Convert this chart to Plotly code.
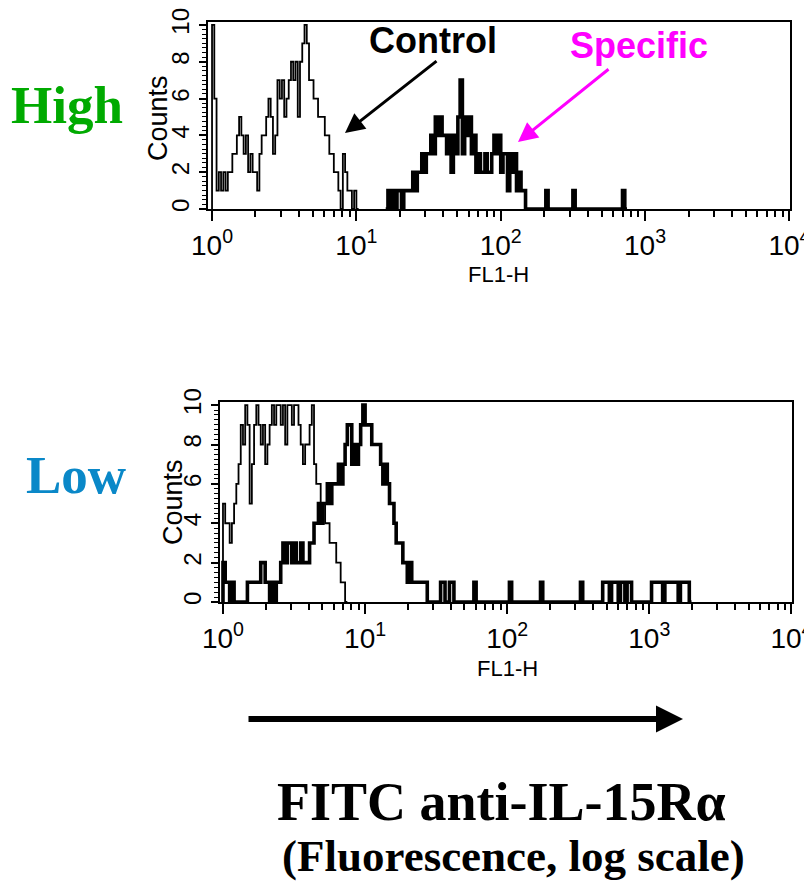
import plotly.graph_objects as go

# FL1-H channels: 64 channels per decade over four decades (1 .. 10^4)
CHANNELS_PER_DECADE = 64

DECADE_VALUES = [1, 10, 100, 1000, 10000]
DECADE_LABELS = ["10<sup>0</sup>", "10<sup>1</sup>", "10<sup>2</sup>",
                 "10<sup>3</sup>", "10<sup>4</sup>"]
COUNT_TICKS = [0, 2, 4, 6, 8, 10]

# High IL-15Ra expressers: cell counts per channel
HIGH_CONTROL_START = 0
HIGH_CONTROL = [10, 6, 1, 2, 1, 2, 1, 2, 2, 3, 3, 4, 5, 4, 3, 4, 2, 3, 2, 2,
                1, 3, 4, 4, 5, 6, 5, 3, 4, 7, 6, 7, 5, 6, 7, 8, 7, 8, 5, 8,
                9, 10, 9, 7, 7, 6, 6, 5, 5, 5, 4, 4, 3, 3, 2, 2, 1, 0, 3, 2,
                1, 1, 0, 1, 0]

HIGH_SPECIFIC_START = 77
HIGH_SPECIFIC = [0, 1, 0, 1, 0, 1, 1, 0, 1, 1, 1, 1, 2, 1, 2, 2, 3, 2, 3, 3,
                 4, 3, 5, 4, 5, 4, 4, 3, 4, 2, 4, 3, 5, 7, 3, 5, 4, 5, 3, 4,
                 2, 3, 2, 2, 3, 2, 2, 3, 4, 3, 4, 2, 3, 3, 1, 3, 2, 3, 1, 2,
                 1, 1, 0, 0, 0, 0, 0, 0, 0, 0, 0, 1, 0, 0, 0, 0, 0, 0, 0, 0,
                 0, 0, 0, 1, 0, 0, 0, 0, 0, 0, 0, 0, 0, 0, 0, 0, 0, 0, 0, 0,
                 0, 0, 0, 0, 0, 1, 0]

# Low IL-15Ra expressers: cell counts per channel
LOW_CONTROL_START = 0
LOW_CONTROL = [5, 4, 4, 3, 4, 5, 6, 7, 9, 8, 10, 9, 5, 7, 9, 10, 9, 8, 9, 7,
               8, 9, 10, 9, 10, 10, 9, 10, 8, 10, 10, 9, 10, 10, 9, 8, 7, 8, 8, 9,
               10, 7, 6, 6, 5, 5, 4, 4, 3, 3, 3, 2, 2, 1, 1, 0]

LOW_SPECIFIC_START = 0
LOW_SPECIFIC = [2, 1, 1, 0, 1, 0, 0, 0, 0, 0, 0, 1, 1, 1, 1, 1, 1, 2, 2, 1,
                1, 0, 1, 0, 1, 1, 2, 3, 2, 3, 3, 2, 3, 2, 2, 3, 2, 2, 2, 3,
                3, 4, 4, 5, 4, 5, 5, 6, 5, 6, 6, 6, 7, 6, 7, 8, 9, 9, 7, 8,
                7, 8, 9, 10, 9, 9, 9, 8, 8, 8, 8, 7, 6, 7, 6, 5, 5, 4, 3, 3,
                3, 2, 2, 1, 2, 1, 1, 1, 1, 1, 1, 1, 0, 0, 0, 0, 0, 0, 1, 1,
                0, 0, 1, 1, 0, 0, 0, 0, 0, 0, 0, 0, 0, 1, 0, 0, 0, 0, 0, 0,
                0, 0, 0, 0, 0, 0, 0, 0, 0, 1, 0, 0, 0, 0, 0, 0, 0, 0, 0, 0,
                0, 0, 0, 1, 0, 0, 0, 0, 0, 0, 0, 0, 0, 0, 0, 0, 0, 0, 0, 0,
                0, 1, 0, 0, 0, 0, 0, 0, 0, 0, 0, 1, 1, 1, 0, 1, 1, 1, 0, 1,
                1, 0, 1, 1, 0, 0, 0, 0, 0, 0, 0, 0, 0, 1, 1, 1, 1, 1, 0, 1,
                1, 1, 1, 1, 1, 0, 1, 1, 1, 1, 0]


def step_trace(start, counts, width, xaxis, yaxis):
    """Channel histogram drawn as a stepped outline."""
    edges = [10 ** ((start + i) / CHANNELS_PER_DECADE) for i in range(len(counts) + 1)]
    xs = [edges[0]] + edges[:-1] + [edges[-1]]
    ys = [0] + list(counts) + [0]
    return go.Scatter(x=xs, y=ys, mode="lines", line_shape="hv",
                      line=dict(color="black", width=width),
                      xaxis=xaxis, yaxis=yaxis, showlegend=False,
                      hoverinfo="skip")


fig = go.Figure()
fig.add_trace(step_trace(HIGH_CONTROL_START, HIGH_CONTROL, 1.8, "x", "y"))
fig.add_trace(step_trace(HIGH_SPECIFIC_START, HIGH_SPECIFIC, 3.6, "x", "y"))
fig.add_trace(step_trace(LOW_CONTROL_START, LOW_CONTROL, 1.8, "x2", "y2"))
fig.add_trace(step_trace(LOW_SPECIFIC_START, LOW_SPECIFIC, 3.6, "x2", "y2"))

W, H = 804, 881
SANS = "Liberation Sans, Arial, sans-serif"
SERIF = "Liberation Serif, Times New Roman, serif"
X_TICK_FONT = dict(family=SANS, size=28, color="black")
Y_TICK_FONT = dict(family=SANS, size=24, color="black")
minor_log = [m * 10 ** d for d in range(4) for m in range(2, 10)]
minor_counts = [q / 4 for q in range(41)]


def x_axis(domain, left, anchor):
    return dict(type="log", domain=domain, range=[left, 4.004], anchor=anchor,
                automargin=False, ticklabeloverflow="allow",
                showgrid=False, zeroline=False, showline=True, mirror=True,
                linecolor="black", linewidth=2,
                tickmode="array", tickvals=DECADE_VALUES, ticktext=DECADE_LABELS,
                ticks="outside", ticklen=10, tickwidth=2, tickcolor="black",
                tickfont=X_TICK_FONT,
                minor=dict(tickvals=minor_log, ticks="outside", ticklen=6,
                           tickwidth=1.5, tickcolor="black", showgrid=False))


def y_axis(domain, anchor):
    return dict(domain=domain, range=[0, 10.16], anchor=anchor,
                automargin=False, ticklabeloverflow="allow",
                showgrid=False, zeroline=False, showline=True, mirror=True,
                linecolor="black", linewidth=2,
                tickmode="array", tickvals=COUNT_TICKS,
                ticks="outside", ticklen=7, tickwidth=1.5, tickcolor="black",
                tickangle=-90, tickfont=Y_TICK_FONT,
                minor=dict(tickvals=minor_counts, ticks="outside", ticklen=4,
                           tickwidth=1, tickcolor="black", showgrid=False))


top_x = [208 / W, 790 / W]
top_y = [1 - 209 / H, 1 - 22 / H]
bot_x = [220 / W, 792 / W]
bot_y = [1 - 602 / H, 1 - 402 / H]

fig.update_layout(
    width=W, height=H,
    margin=dict(l=0, r=0, t=0, b=0, autoexpand=False),
    paper_bgcolor="white", plot_bgcolor="white",
    xaxis=x_axis(top_x, -0.028, "y"),
    yaxis=y_axis(top_y, "x"),
    xaxis2=x_axis(bot_x, -0.021, "y2"),
    yaxis2=y_axis(bot_y, "x2"),
)


def px(x, y):
    return x / W, 1 - y / H


annotations = []
# axis titles
for (cx, cy) in [(158, 118), (173, 502)]:
    ax_, ay_ = px(cx, cy)
    annotations.append(dict(x=ax_, y=ay_, xref="paper", yref="paper", text="Counts",
                            showarrow=False, textangle=-90,
                            font=dict(family=SANS, size=27, color="black"),
                            xanchor="center", yanchor="middle"))
for (cx, cy) in [(498, 274), (507, 668)]:
    ax_, ay_ = px(cx, cy)
    annotations.append(dict(x=ax_, y=ay_, xref="paper", yref="paper", text="FL1-H",
                            showarrow=False,
                            font=dict(family=SANS, size=22, color="black"),
                            xanchor="center", yanchor="middle"))

# panel labels
x_, y_ = px(67, 105)
annotations.append(dict(x=x_, y=y_, xref="paper", yref="paper", text="<b>High</b>",
                        showarrow=False, font=dict(family=SERIF, size=53, color="#00AA00"),
                        xanchor="center", yanchor="middle"))
x_, y_ = px(76, 475)
annotations.append(dict(x=x_, y=y_, xref="paper", yref="paper", text="<b>Low</b>",
                        showarrow=False, font=dict(family=SERIF, size=53, color="#0A88C8"),
                        xanchor="center", yanchor="middle"))

# series callouts
x_, y_ = px(433, 40)
annotations.append(dict(x=x_, y=y_, xref="paper", yref="paper", text="<b>Control</b>",
                        showarrow=False, font=dict(family=SANS, size=36, color="black"),
                        xanchor="center", yanchor="middle"))
x_, y_ = px(345, 133)
annotations.append(dict(x=x_, y=y_, xref="paper", yref="paper", text="",
                        showarrow=True, ax=93, ay=-73, arrowhead=2, arrowsize=1.3,
                        arrowwidth=3, arrowcolor="black"))
x_, y_ = px(639, 46)
annotations.append(dict(x=x_, y=y_, xref="paper", yref="paper", text="<b>Specific</b>",
                        showarrow=False, font=dict(family=SANS, size=36, color="#FF00FF"),
                        xanchor="center", yanchor="middle"))
x_, y_ = px(518, 142)
annotations.append(dict(x=x_, y=y_, xref="paper", yref="paper", text="",
                        showarrow=True, ax=92, ay=-74, arrowhead=2, arrowsize=1.3,
                        arrowwidth=3, arrowcolor="#FF00FF"))

# fluorescence direction arrow and caption
x_, y_ = px(683, 719)
annotations.append(dict(x=x_, y=y_, xref="paper", yref="paper", text="",
                        showarrow=True, ax=-436, ay=0, arrowhead=2, arrowsize=0.9,
                        arrowwidth=6, arrowcolor="black"))
x_, y_ = px(501, 802)
annotations.append(dict(x=x_, y=y_, xref="paper", yref="paper",
                        text="<b>FITC anti-IL-15Rα</b>",
                        showarrow=False, font=dict(family=SERIF, size=54, color="black"),
                        xanchor="center", yanchor="middle"))
x_, y_ = px(513, 856)
annotations.append(dict(x=x_, y=y_, xref="paper", yref="paper",
                        text="<b>(Fluorescence, log scale)</b>",
                        showarrow=False, font=dict(family=SERIF, size=45, color="black"),
                        xanchor="center", yanchor="middle"))

fig.update_layout(annotations=annotations)
fig.write_html("out.html")
